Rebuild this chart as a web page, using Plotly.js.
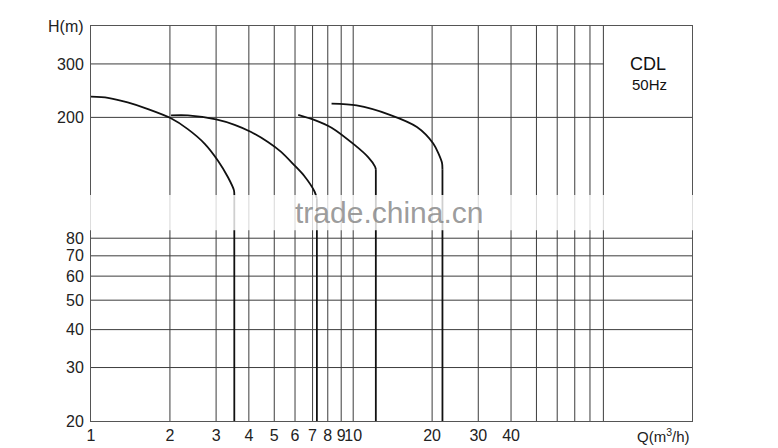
<!DOCTYPE html>
<html>
<head>
<meta charset="utf-8">
<script src="https://cdn.plot.ly/plotly-3.0.1.min.js"></script>
<style>html,body{margin:0;padding:0;background:#fff;}#chart{width:778px;height:448px;}</style>
</head>
<body>
<div id="chart"></div>
<script>
// Tick labels
const qTicks = [1, 2, 3, 4, 5, 6, 7, 8, 9, 10, 20, 30, 40];
const hTicks = [20, 30, 40, 50, 60, 70, 80, 200, 300];
// Grid lines
const qGrid = [2, 3, 4, 5, 6, 7, 8, 9, 10, 20, 30, 40, 50, 60, 70, 80, 90];
const hGridFull = [30, 40, 50, 60, 70, 80, 200];
const hGridShort = [300];
const hGridShortEnd = 90;
// Pump curves (Q m3/h, H m)
const q1 = [1.00, 1.16, 1.38, 1.65, 2.01, 2.34, 2.71, 3.05, 3.33, 3.51, 3.52];
const h1 = [234, 232, 224, 213, 199, 183, 164, 144, 127, 115, 110];
const q2 = [2.02, 2.34, 3.00, 3.53, 4.08, 4.73, 5.31, 5.97, 6.52, 7.12, 7.27];
const h2 = [203, 203, 197, 189, 179, 166, 154, 139, 128, 114, 108];
const q3 = [6.17, 7.14, 8.27, 10.15, 11.4, 12.1, 12.2];
const h3 = [204, 196, 185, 162, 148, 138, 135];
const q4 = [8.27, 10.3, 13.8, 17.5, 20.2, 21.8, 21.9];
const h4 = [222, 219, 204, 186, 164, 142, 135];
const hMin = 20, hMax = 400, qMin = 1, qMax = 196;

const FONT = 'Liberation Sans, Arial, sans-serif';
const GRID = '#3c3c3c';
const curves = [[q1, h1], [q2, h2], [q3, h3], [q4, h4]];
const traces = [];
curves.forEach(([q, h]) => {
  traces.push({x: q, y: h, mode: 'lines', line: {color: '#111', width: 1.8, shape: 'spline', smoothing: 0.8}, hoverinfo: 'skip', showlegend: false});
  const qe = q[q.length - 1], he = h[h.length - 1];
  traces.push({x: [qe, qe], y: [he, hMin], mode: 'lines', line: {color: '#111', width: 1.8}, hoverinfo: 'skip', showlegend: false});
});

const shapes = [];
qGrid.forEach(q => shapes.push({type: 'line', xref: 'x', yref: 'y', x0: q, x1: q, y0: hMin, y1: hMax, line: {color: GRID, width: 1}, layer: 'below'}));
hGridFull.forEach(h => shapes.push({type: 'line', xref: 'x', yref: 'y', x0: qMin, x1: qMax, y0: h, y1: h, line: {color: GRID, width: 1}, layer: 'below'}));
hGridShort.forEach(h => shapes.push({type: 'line', xref: 'x', yref: 'y', x0: qMin, x1: hGridShortEnd, y0: h, y1: h, line: {color: GRID, width: 1}, layer: 'below'}));
// blurred watermark band
shapes.push({type: 'rect', xref: 'paper', yref: 'y', x0: -0.02, x1: 1.01, y0: 85, y1: 111, fillcolor: 'rgba(255,255,255,0.8)', line: {width: 0}, layer: 'above'});

const layout = {
  width: 778, height: 448,
  margin: {l: 91, r: 86, t: 26, b: 27},
  paper_bgcolor: '#fff', plot_bgcolor: '#fff',
  font: {family: FONT, size: 16, color: '#222'},
  xaxis: {type: 'log', range: [Math.log10(qMin), Math.log10(qMax)], tickvals: qTicks, ticktext: qTicks.map(String),
          tickangle: 0, showgrid: false, zeroline: false, showline: true, mirror: true, linecolor: '#555', linewidth: 1,
          ticks: '', tickfont: {family: FONT, size: 16, color: '#222'}, fixedrange: true},
  yaxis: {type: 'log', range: [Math.log10(hMin), Math.log10(hMax)], tickvals: hTicks, ticktext: hTicks.map(String),
          showgrid: false, zeroline: false, showline: true, mirror: true, linecolor: '#555', linewidth: 1,
          ticks: '', ticklabelstandoff: 3, tickfont: {family: FONT, size: 16, color: '#222'}, fixedrange: true},
  shapes: shapes,
  annotations: [
    {text: 'H(m)', xref: 'paper', yref: 'paper', x: 0, y: 1, xanchor: 'right', yanchor: 'middle', xshift: -5, showarrow: false, font: {family: FONT, size: 16, color: '#222'}},
    {text: 'Q(m<sup>3</sup>/h)', xref: 'paper', yref: 'paper', x: 1, y: 0, xanchor: 'right', yanchor: 'middle', yshift: -14, showarrow: false, font: {family: FONT, size: 15, color: '#222'}},
    {text: 'CDL', xref: 'x', yref: 'y', x: Math.log10(133), y: Math.log10(300), showarrow: false, font: {family: FONT, size: 18, color: '#111'}},
    {text: '50Hz', xref: 'x', yref: 'y', x: Math.log10(135), y: Math.log10(257), showarrow: false, font: {family: FONT, size: 15, color: '#111'}},
    {text: 'trade.china.cn', xref: 'x', yref: 'y', x: Math.log10(13.7), y: Math.log10(97), showarrow: false, font: {family: FONT, size: 30, color: 'rgba(130,130,130,0.8)'}}
  ]
};
Plotly.newPlot('chart', traces, layout, {staticPlot: true, displayModeBar: false});
</script>
</body>
</html>
